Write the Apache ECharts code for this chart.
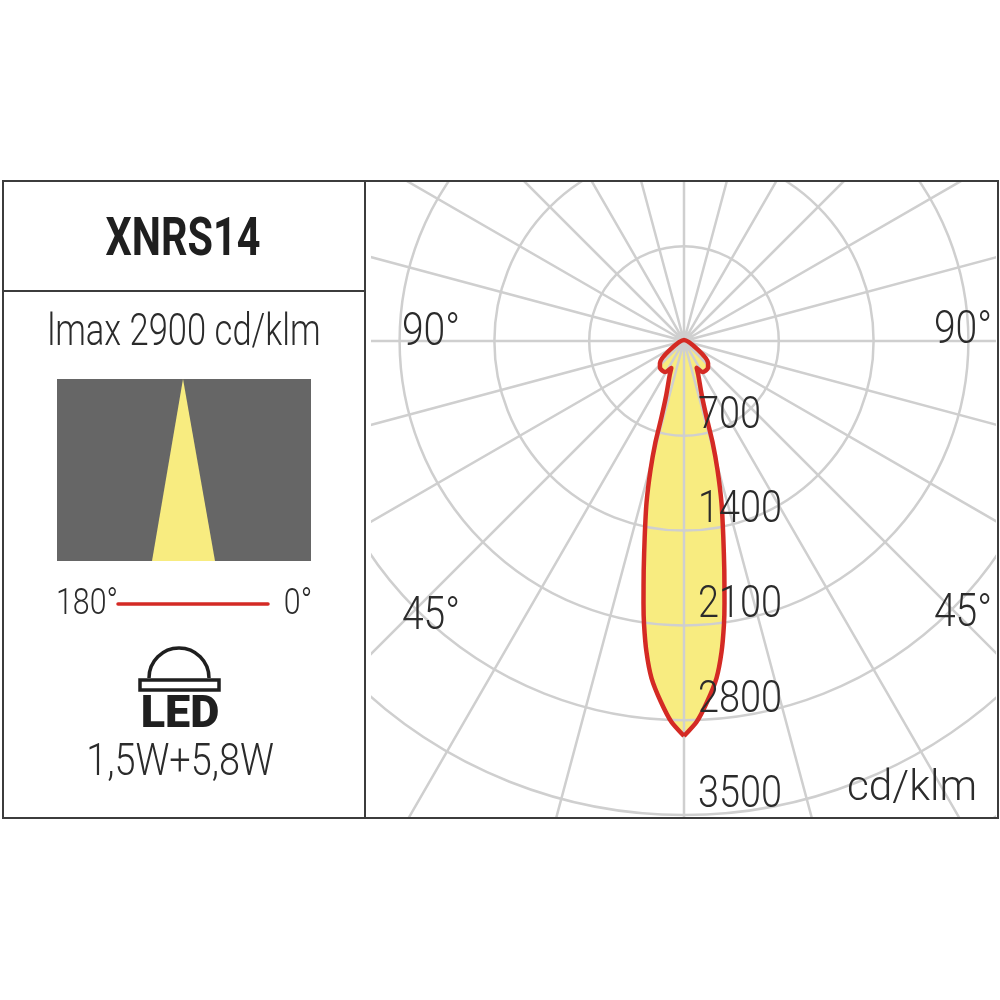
<!DOCTYPE html>
<html>
<head>
<meta charset="utf-8">
<title>XNRS14</title>
<style>
  html, body { margin: 0; padding: 0; background: #fff; }
  #chart { width: 1000px; height: 1000px; }
</style>
<script src="https://cdn.jsdelivr.net/npm/echarts@6/dist/echarts.min.js"></script>
</head>
<body>
<div id="chart"></div>
<script>
const ringTicks = [700, 1400, 2100, 2800, 3500];
const lobeAngles = [0, 1.88, 3.65, 5.51, 6.88, 8.0, 8.79, 9.98, 11.34, 13.03, 14.56, 15.76, 16.43, 18.15, 22.8, 25.2, 31.5, 41.6, 47.5, 180,
  312.5, 318.4, 328.5, 334.8, 337.2, 341.85, 343.57, 344.24, 345.44, 346.97, 348.66, 350.02, 351.21, 352, 353.12, 354.49, 356.35, 358.12, 360];
const lobeValues = [2917, 2815, 2671, 2500, 2313, 2118, 1957, 1717, 1476, 1228, 984, 775, 593, 420, 272, 220, 269, 267, 241, 7,
  241, 267, 269, 220, 272, 420, 593, 775, 984, 1228, 1476, 1717, 1957, 2118, 2313, 2500, 2671, 2815, 2917];

const lobeData = lobeAngles.map((angle, i) => [lobeValues[i], angle]);
const ink = '#2b2b2b';
const frame = '#3c3c3c';
const gridColor = '#cfcfcf';

// no condensed face is installed, so Roboto gets squeezed horizontally
function text(x, y, str, size, sx, extra) {
  const opts = extra || {};
  return {
    type: 'text',
    z: 110,
    x,
    y: y + size * 0.11,
    scaleX: sx,
    style: {
      x: 0,
      y: 0,
      text: str,
      font: `${opts.weight || 300} ${size}px Roboto, sans-serif`,
      fill: opts.fill || ink,
      align: opts.align || 'center',
      verticalAlign: 'middle'
    }
  };
}

function cover(x, y, width, height) {
  return { type: 'rect', z: 100, shape: { x, y, width, height }, style: { fill: '#fff' } };
}

function line(x1, y1, x2, y2, color, width) {
  return { type: 'line', z: 105, shape: { x1, y1, x2, y2 }, style: { stroke: color, lineWidth: width, lineCap: 'round' } };
}

const chart = echarts.init(document.querySelector('#chart'), null, { renderer: 'canvas' });

chart.setOption({
  animation: false,
  backgroundColor: '#fff',
  polar: { center: [684, 341], radius: 568.8 },
  angleAxis: {
    type: 'value',
    min: 0,
    max: 360,
    interval: 15,
    startAngle: 270,
    z: 2,
    axisLine: { show: false },
    axisTick: { show: false },
    axisLabel: { show: false },
    splitLine: { show: true, lineStyle: { color: gridColor, width: 2.5 } }
  },
  radiusAxis: {
    type: 'value',
    min: 0,
    max: 4200,
    interval: 700,
    z: 2,
    axisLine: { show: false },
    axisTick: { show: false },
    axisLabel: { show: false },
    splitLine: { show: true, lineStyle: { color: gridColor, width: 2.5 } }
  },
  series: [
    {
      name: 'fill',
      type: 'line',
      coordinateSystem: 'polar',
      data: lobeData,
      z: 1,
      silent: true,
      symbol: 'none',
      smooth: 0.2,
      lineStyle: { width: 0 },
      areaStyle: { color: '#f8ec80', opacity: 1 }
    },
    {
      name: 'outline',
      type: 'line',
      coordinateSystem: 'polar',
      data: lobeData,
      z: 4,
      silent: true,
      symbol: 'none',
      smooth: 0.2,
      lineStyle: { color: '#d42a24', width: 4.5, join: 'round' }
    }
  ]
});

// ring labels sit just above their ring, placed through the radius scale
const ringLabels = ringTicks.map((v) => {
  const [px, py] = chart.convertToPixel({ polarIndex: 0 }, [v, 0]);
  return text(px + 14, py - 24, String(v), 44, 0.86, { align: 'left' });
});

chart.setOption({
  graphic: { elements: [
    cover(0, 0, 1000, 181),
    cover(0, 817, 1000, 183),
    cover(0, 0, 371, 1000),
    cover(996, 0, 4, 1000),
    cover(371, 811, 7, 6),

    { type: 'rect', z: 105, shape: { x: 3, y: 181, width: 995, height: 637 }, style: { fill: 'none', stroke: frame, lineWidth: 2 } },
    line(365, 181, 365, 818, frame, 2),
    line(3, 291, 365, 291, frame, 2),

    text(183, 236, 'XNRS14', 53, 0.78, { weight: 700, fill: '#1f1f1f' }),
    text(184, 329, 'lmax 2900 cd/klm', 44, 0.785),

    { type: 'rect', z: 105, shape: { x: 57, y: 379, width: 254, height: 182 }, style: { fill: '#666666' } },
    { type: 'polygon', z: 106, shape: { points: [[183, 379], [215, 561], [152, 561]] }, style: { fill: '#f8ec80' } },

    text(87, 601, '180°', 37, 0.82),
    line(118, 604, 268, 604, '#d42a24', 3.5),
    text(298, 601, '0°', 37, 0.82),

    { type: 'arc', z: 105, shape: { cx: 179, cy: 678, r: 30, startAngle: Math.PI, endAngle: Math.PI * 2 }, style: { fill: 'none', stroke: '#1f1f1f', lineWidth: 3.5 } },
    { type: 'rect', z: 105, shape: { x: 140, y: 680, width: 79, height: 10 }, style: { fill: '#fff', stroke: '#1f1f1f', lineWidth: 3.5 } },
    text(180, 711, 'LED', 45, 1, { weight: 900, fill: '#1f1f1f' }),
    text(180, 759, '1,5W+5,8W', 44, 0.86),

    text(431, 328, '90°', 46, 0.85),
    text(963, 326, '90°', 46, 0.85),
    text(431, 612, '45°', 46, 0.85),
    text(963, 609, '45°', 46, 0.85),
    text(912, 785, 'cd/klm', 42, 1.01)
  ].concat(ringLabels) }
});
</script>
</body>
</html>
